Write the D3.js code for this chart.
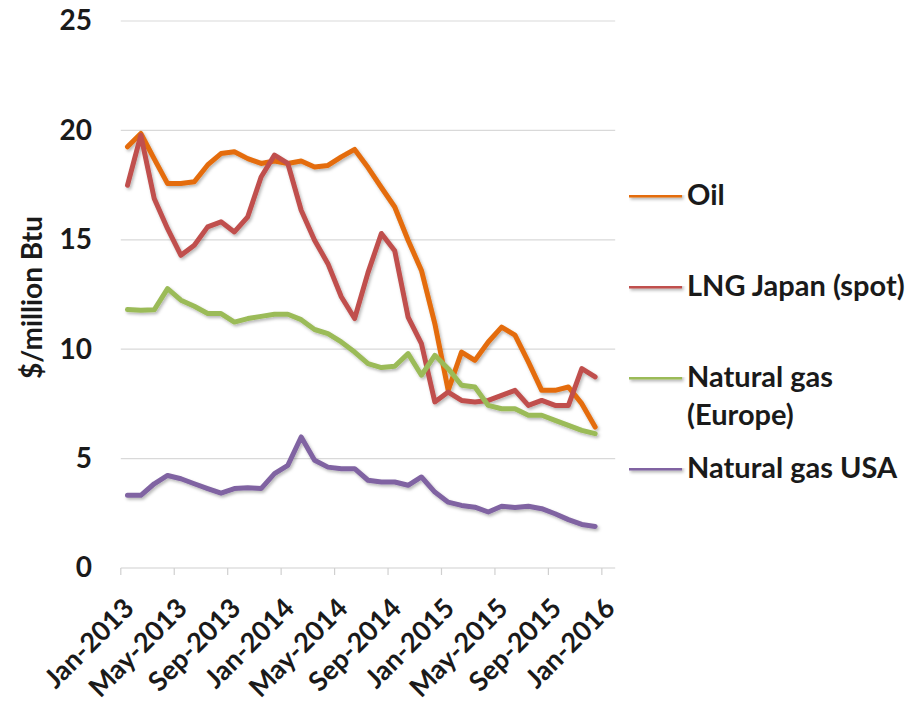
<!DOCTYPE html>
<html>
<head>
<meta charset="utf-8">
<script src="https://cdn.jsdelivr.net/npm/d3@7/dist/d3.min.js"></script>
<style>
  body { margin: 0; background: #ffffff; }
  text { font-family: "Lato", "Liberation Sans", sans-serif; font-weight: 700; fill: #1a1a1a; }
</style>
</head>
<body>
<svg id="chart" width="918" height="704"></svg>
<script>
// Monthly categories on the horizontal axis (last one has no data yet)
const months = [
  "Jan-2013","Feb-2013","Mar-2013","Apr-2013","May-2013","Jun-2013","Jul-2013","Aug-2013","Sep-2013","Oct-2013","Nov-2013","Dec-2013",
  "Jan-2014","Feb-2014","Mar-2014","Apr-2014","May-2014","Jun-2014","Jul-2014","Aug-2014","Sep-2014","Oct-2014","Nov-2014","Dec-2014",
  "Jan-2015","Feb-2015","Mar-2015","Apr-2015","May-2015","Jun-2015","Jul-2015","Aug-2015","Sep-2015","Oct-2015","Nov-2015","Dec-2015",
  "Jan-2016"
];

// Prices in $/million Btu, Jan-2013 .. Dec-2015
const oil = [19.25, 19.86, 18.7, 17.57, 17.57, 17.65, 18.42, 18.94, 19.02, 18.71, 18.49, 18.6,
             18.49, 18.6, 18.33, 18.4, 18.79, 19.13, 18.3, 17.39, 16.5, 14.98, 13.6, 11.17,
             8.12, 9.87, 9.49, 10.33, 11.01, 10.64, 9.42, 8.12, 8.12, 8.27, 7.51, 6.44];
const lngJapan = [17.49, 19.78, 16.89, 15.51, 14.29, 14.75, 15.59, 15.82, 15.36, 16.05, 17.87, 18.87,
                  18.49, 16.35, 14.98, 13.91, 12.4, 11.4, 13.5, 15.29, 14.5, 11.47, 10.25, 7.59,
                  8.04, 7.66, 7.59, 7.66, 7.89, 8.12, 7.43, 7.66, 7.43, 7.43, 9.11, 8.73];
const gasEurope = [11.81, 11.78, 11.8, 12.77, 12.24, 11.96, 11.63, 11.63, 11.24, 11.4, 11.5, 11.6,
                   11.6, 11.35, 10.9, 10.71, 10.33, 9.87, 9.34, 9.16, 9.22, 9.8, 8.81, 9.72,
                   9.11, 8.35, 8.27, 7.43, 7.28, 7.28, 6.98, 6.98, 6.75, 6.52, 6.29, 6.14];
const gasUSA = [3.32, 3.32, 3.85, 4.23, 4.08, 3.85, 3.63, 3.42, 3.63, 3.67, 3.63, 4.31,
                4.69, 5.99, 4.92, 4.61, 4.54, 4.54, 4.01, 3.93, 3.93, 3.78, 4.16, 3.47,
                3.01, 2.86, 2.78, 2.56, 2.82, 2.76, 2.82, 2.71, 2.48, 2.21, 1.99, 1.9];

const seriesNames = ["Oil", "LNG Japan (spot)", "Natural gas (Europe)", "Natural gas USA"];
const legendLines = [["Oil"], ["LNG Japan (spot)"], ["Natural gas", "(Europe)"], ["Natural gas USA"]];
const seriesColors = ["#e46c0a", "#c0504d", "#9bbb59", "#8064a2"];
const yTicks = [0, 5, 10, 15, 20, 25];
const xTickLabels = ["Jan-2013","May-2013","Sep-2013","Jan-2014","May-2014","Sep-2014","Jan-2015","May-2015","Sep-2015","Jan-2016"];
const yTitle = "$/million Btu";

const series = [oil, lngJapan, gasEurope, gasUSA];

const svg = d3.select("#chart");
const plot = { left: 120.8, right: 615.2, top: 21, bottom: 568 };

const x = d3.scaleBand().domain(months).range([plot.left, plot.right]).paddingInner(0).paddingOuter(0);
const y = d3.scaleLinear().domain([0, 25]).range([plot.bottom, plot.top]);

// Soft drop shadow under the lines
const defs = svg.append("defs");
const f = defs.append("filter").attr("id", "shadow").attr("filterUnits", "userSpaceOnUse")
  .attr("x", 0).attr("y", 0).attr("width", 918).attr("height", 704);
f.append("feDropShadow").attr("dx", 1.5).attr("dy", 2).attr("stdDeviation", 1.6)
  .attr("flood-color", "#000").attr("flood-opacity", 0.28);

// Horizontal gridlines
svg.append("g").selectAll("line").data(yTicks.filter(d => d > 0)).join("line")
  .attr("x1", plot.left).attr("x2", plot.right)
  .attr("y1", d => y(d)).attr("y2", d => y(d))
  .attr("stroke", "#d9d9d9").attr("stroke-width", 1.2);

// Y axis labels
const yAxis = d3.axisLeft(y).tickValues(yTicks).tickSize(0).tickPadding(0);
const yg = svg.append("g").attr("transform", "translate(92,0)").call(yAxis);
yg.select(".domain").remove();
yg.selectAll("text").attr("font-size", 28).attr("fill", "#1a1a1a")
  .style("font-family", "Lato, 'Liberation Sans', sans-serif").style("font-weight", 700);

// Y axis title
svg.append("text")
  .attr("transform", `translate(42,${(y(0) + y(25)) / 2 + 3}) rotate(-90)`)
  .attr("text-anchor", "middle").attr("font-size", 28)
  .text(yTitle);

// X axis: baseline with tick marks every four months at category boundaries
const tickCats = months.filter(m => xTickLabels.includes(m));
svg.append("line").attr("x1", plot.left).attr("x2", plot.right)
  .attr("y1", y(0)).attr("y2", y(0)).attr("stroke", "#d0d0d0").attr("stroke-width", 1.2);
svg.append("g").selectAll("line").data(tickCats).join("line")
  .attr("x1", d => x(d)).attr("x2", d => x(d))
  .attr("y1", y(0)).attr("y2", y(0) + 7)
  .attr("stroke", "#d0d0d0").attr("stroke-width", 1.2);

// Rotated month labels
svg.append("g").selectAll("text").data(tickCats).join("text")
  .attr("transform", d => `translate(${x(d) + x.bandwidth() / 2 + 8},${y(0) + 42}) rotate(-45)`)
  .attr("text-anchor", "end").attr("font-size", 27)
  .text(d => d);

// Lines
const line = d3.line()
  .x((d, i) => x(months[i]) + x.bandwidth() / 2)
  .y(d => y(d));

svg.append("g").attr("filter", "url(#shadow)").selectAll("path").data(series).join("path")
  .attr("d", d => line(d))
  .attr("fill", "none")
  .attr("stroke", (d, i) => seriesColors[i])
  .attr("stroke-width", 5)
  .attr("stroke-linejoin", "round")
  .attr("stroke-linecap", "round");

// Legend
const legendY = d3.scalePoint().domain(seriesNames).range([195, 468]);
const lg = svg.append("g").selectAll("g").data(seriesNames).join("g")
  .attr("transform", d => `translate(629,${legendY(d)})`);
lg.append("line").attr("x1", 0).attr("x2", 53).attr("y1", 0).attr("y2", 0)
  .attr("stroke", (d, i) => seriesColors[i]).attr("stroke-width", 5)
  .attr("filter", "url(#shadow)");
lg.append("text").attr("x", 58).attr("y", 0).attr("font-size", 29)
  .selectAll("tspan").data((d, i) => legendLines[i]).join("tspan")
  .attr("x", 58).attr("dy", (t, j) => j === 0 ? "0.36em" : "1.28em")
  .text(t => t);
</script>
</body>
</html>
